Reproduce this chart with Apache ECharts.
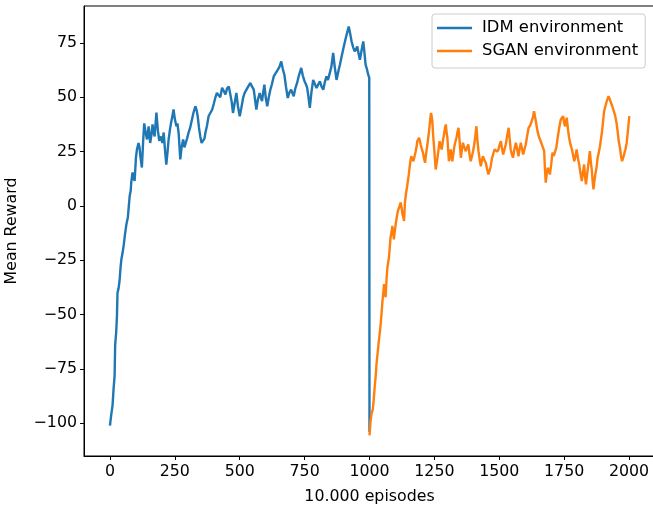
<!DOCTYPE html>
<html>
<head>
<meta charset="utf-8">
<script src="https://cdn.jsdelivr.net/npm/echarts@6/dist/echarts.min.js"></script>
<style>
  html, body { margin: 0; padding: 0; background: #fff; }
  #chart { width: 653px; height: 507px; }
</style>
</head>
<body>
<div id="chart"></div>
<script>
// values
var idmX = [0, 5, 10, 14, 18, 20, 24, 27, 29, 33, 37, 41, 44, 48, 53, 59, 64, 69, 72, 76, 80, 82, 87, 91, 95,
    100, 104, 110, 114, 117, 123, 128, 132, 137, 143, 149, 155, 160, 164, 168, 172, 179, 185, 190, 197,
    202, 207, 212, 217, 222, 226, 231, 235, 240, 245, 250, 256, 260, 265, 271, 276, 282, 287, 292, 297,
    303, 309, 316, 322, 329, 334, 338, 343, 348, 353, 359, 364, 368, 374, 380, 387, 394, 400, 406, 412,
    419, 425, 432, 438, 445, 451, 458, 464, 469, 474, 480, 487, 493, 500, 506, 513, 519, 526, 533, 541,
    547, 554, 559, 564, 570, 577, 581, 586, 590, 595, 600, 606, 612, 618, 624, 631, 638, 647, 653, 660,
    666, 672, 678, 685, 691, 698, 703, 708, 714, 721, 728, 737, 743, 750, 755, 760, 765, 770, 776, 783,
    790, 796, 803, 809, 815, 822, 828, 834, 840, 847, 853, 860, 866, 873, 880, 886, 893, 901, 910, 920,
    926, 931, 937, 943, 948, 953, 958, 963, 970, 976, 981, 985, 990, 995, 999, 1000];
var idmY = [-101, -96, -91.7, -84, -78, -64, -58, -50.5, -40, -38, -34.4, -28, -24.5, -22, -18, -12, -8, -5.3, -1, 4.6, 7, 10.8, 15.4, 13, 11.5,
    22, 26, 29, 27, 23, 17.7, 30, 38, 34, 30.6, 36.6, 29, 33, 37.5, 34, 32, 43, 34.4, 30, 32,
    29, 33.8, 26, 19, 25, 30.6, 35, 38, 41, 44.4, 40, 36.7, 38, 33, 21.4, 27, 30.6, 27, 29, 31,
    33.8, 36, 39.8, 43, 45.9, 44, 41.3, 36, 32, 29, 28.3, 31, 33.8, 37, 41.3, 42, 44.4, 47, 49.8, 52,
    52.1, 50, 54.4, 53, 51.3, 54, 55, 55, 48, 42.8, 47, 52, 46, 41.3, 45, 49.7, 52, 53.5, 55, 56.6,
    55, 53.5, 49, 44.4, 49, 52, 50, 48.2, 52, 55.8, 50, 45.9, 50, 53.5, 56, 59.6, 61, 62.7, 64, 66.5,
    63, 60.4, 55, 49.7, 52, 53.5, 52, 50.5, 54, 56.6, 60, 63.5, 60, 57.3, 56, 54.3, 50, 45.1, 52, 58,
    56, 54.3, 56, 57.3, 55, 53.5, 57, 59.6, 58, 58, 64, 70.4, 64, 58, 62, 65, 69, 73.4, 78, 82.6,
    79, 75.7, 73, 71.1, 72, 73.4, 70, 67.3, 72, 75.7, 70, 65, 63, 60.4, 59, -104];

var sganX = [1000, 1004, 1008, 1013, 1017, 1020, 1024, 1027, 1031, 1036, 1040, 1043, 1046, 1049, 1053, 1056, 1059, 1062,
    1066, 1069, 1072, 1075, 1078, 1081, 1085, 1088, 1091, 1094, 1098, 1101, 1104, 1107, 1110, 1114, 1117, 1120,
    1124, 1127, 1130, 1133, 1137, 1142, 1145, 1148, 1152, 1155, 1158, 1161, 1165, 1169, 1174, 1178, 1181, 1184,
    1188, 1191, 1194, 1197, 1202, 1206, 1210, 1214, 1218, 1223, 1228, 1232, 1235, 1237, 1240, 1242, 1245, 1248,
    1252, 1255, 1258, 1262, 1266, 1270, 1274, 1278, 1283, 1287, 1291, 1294, 1297, 1300, 1303, 1306, 1310, 1313,
    1316, 1319, 1323, 1326, 1330, 1335, 1339, 1343, 1347, 1352, 1356, 1360, 1365, 1371, 1376, 1381, 1385, 1390,
    1395, 1399, 1403, 1407, 1412, 1416, 1420, 1425, 1429, 1433, 1437, 1443, 1448, 1453, 1458, 1462, 1467, 1472,
    1478, 1482, 1487, 1492, 1497, 1501, 1506, 1510, 1515, 1520, 1525, 1530, 1536, 1540, 1544, 1548, 1553, 1558,
    1564, 1569, 1574, 1578, 1583, 1588, 1592, 1597, 1602, 1607, 1613, 1619, 1625, 1630, 1634, 1638, 1643, 1648,
    1654, 1659, 1664, 1668, 1673, 1676, 1679, 1683, 1687, 1691, 1695, 1700, 1705, 1710, 1715, 1720, 1725, 1731,
    1737, 1742, 1746, 1750, 1754, 1757, 1760, 1765, 1769, 1775, 1780, 1785, 1789, 1794, 1798, 1803, 1808, 1813,
    1818, 1822, 1827, 1830, 1834, 1837, 1840, 1845, 1849, 1853, 1857, 1860, 1863, 1866, 1870, 1875, 1879, 1884,
    1888, 1892, 1896, 1900, 1904, 1909, 1914, 1918, 1921, 1926, 1930, 1935, 1939, 1943, 1947, 1952, 1956, 1960,
    1965, 1969, 1973, 1977, 1981, 1986, 1991, 1996, 2001];
var sganY = [-105.5, -99, -95.5, -93.3, -88, -83.3, -78, -72.6, -68, -61.9, -58, -54.3, -50, -45.1, -40, -35.9, -38, -42,
    -33, -28.3, -26, -23.7, -19, -14.5, -12, -9.2, -12, -15.3, -11, -8.4, -6, -3.8, -2, -0.7, 0, 1.6,
    -1, -3.8, -5, -6.9, 2.3, 6.9, 9, 11.5, 15, 18.3, 21, 22.9, 22, 20.6, 23, 25.2, 27, 29.8,
    30, 31.4, 30, 28.3, 26, 24.5, 22, 19.9, 24, 28.3, 33, 37.5, 41, 42.8, 41, 39, 33, 28.3,
    22, 16.8, 19, 22.2, 26, 29.8, 28, 26, 30, 32.9, 36, 37.5, 34, 31.4, 26, 20.6, 23, 26,
    23, 20.6, 24, 26.8, 29, 31.4, 34, 36, 30, 22.2, 26, 29.1, 27, 25.2, 27, 28.3, 24, 20.6,
    23, 25.2, 28, 31.4, 36.7, 30, 25.2, 21, 18.3, 21, 22.9, 21, 19.9, 17, 14.5, 16, 18.3, 22,
    24.5, 26, 26.8, 25, 26, 28, 29.8, 27, 23.7, 26, 28.3, 32, 36, 31, 26, 24, 22.2, 26,
    29.1, 26, 22.9, 26, 29.1, 26, 23.7, 26, 28.3, 32, 36, 37, 39, 41, 43.6, 41, 37.5, 34,
    31.4, 30, 28.3, 27, 25.2, 17, 10.7, 15, 17.6, 16, 14.5, 19, 24.5, 23, 22.9, 27, 31.4, 36,
    39.8, 40, 41.3, 38, 36.7, 39, 40.6, 35, 31.4, 28, 26, 23, 20.6, 23, 26, 22, 19.1, 15,
    11.5, 15, 19.1, 14, 10, 13, 16, 21, 25.2, 20, 16, 11, 7.7, 11, 14.5, 18, 22.2, 25,
    27.5, 31, 34.4, 39, 43.6, 46, 48.2, 49.5, 50.5, 49, 48.2, 46, 45.1, 43, 41.3, 38, 34.4, 30,
    26.8, 23, 20.6, 22, 22.9, 26, 29.1, 35, 41.3];

var xTicks = [0, 250, 500, 750, 1000, 1250, 1500, 1750, 2000];
var yTicks = [-100, -75, -50, -25, 0, 25, 50, 75];

function pairs(xs, ys) {
    var out = [];
    for (var i = 0; i < xs.length; i++) out.push([xs[i], ys[i]]);
    return out;
}

var font = 'DejaVu Sans';
var chart = echarts.init(document.getElementById('chart'));

option = {
    animation: false,
    backgroundColor: '#fff',
    textStyle: { fontFamily: font },
    grid: {
        left: 84, top: 6, width: 571, height: 450,
        outerBoundsMode: 'none',
        containLabel: false,
        show: true, borderColor: '#000', borderWidth: 1,
        backgroundColor: 'transparent'
    },
    legend: {
        orient: 'vertical',
        left: 432, top: 14,
        data: ['IDM environment', 'SGAN environment'],
        icon: 'rect',
        itemWidth: 35, itemHeight: 2.5,
        itemGap: 7,
        padding: [6, 7, 9, 5],
        backgroundColor: 'rgba(255,255,255,0.8)',
        borderColor: '#cccccc', borderWidth: 1, borderRadius: 3,
        textStyle: { fontFamily: font, fontSize: 16.4, color: '#000', padding: [0, 0, 0, 5], lineHeight: 16 }
    },
    xAxis: {
        type: 'value',
        min: -100, max: 2100,
        name: '10.000 episodes',
        nameLocation: 'middle',
        nameGap: 33,
        nameTextStyle: { fontFamily: font, fontSize: 15.8, color: '#000' },
        axisLine: { show: true, onZero: false, lineStyle: { color: '#000', width: 1 } },
        axisTick: { show: true, inside: false, length: 4, customValues: xTicks, lineStyle: { color: '#000' } },
        axisLabel: {
            customValues: xTicks, color: '#000', fontSize: 15.8, fontFamily: font, margin: 8,
            formatter: function (v) { return String(v); }
        },
        splitLine: { show: false }
    },
    yAxis: {
        type: 'value',
        min: -115, max: 92,
        name: 'Mean Reward',
        nameLocation: 'middle',
        nameGap: 64,
        nameRotate: 90,
        nameTextStyle: { fontFamily: font, fontSize: 15.8, color: '#000' },
        axisLine: { show: true, onZero: false, lineStyle: { color: '#000', width: 1 } },
        axisTick: { show: true, inside: false, length: 4, customValues: yTicks, lineStyle: { color: '#000' } },
        axisLabel: {
            customValues: yTicks, color: '#000', fontSize: 15.8, fontFamily: font, margin: 7,
            formatter: function (v) { return String(v).replace('-', '\u2212'); }
        },
        splitLine: { show: false }
    },
    series: [
        {
            name: 'IDM environment',
            type: 'line',
            data: pairs(idmX, idmY),
            showSymbol: false,
            color: '#1f77b4',
            lineStyle: { width: 2.4, color: '#1f77b4' }
        },
        {
            name: 'SGAN environment',
            type: 'line',
            data: pairs(sganX, sganY),
            showSymbol: false,
            color: '#ff7f0e',
            lineStyle: { width: 2.4, color: '#ff7f0e' }
        }
    ]
};

chart.setOption(option);
</script>
</body>
</html>
